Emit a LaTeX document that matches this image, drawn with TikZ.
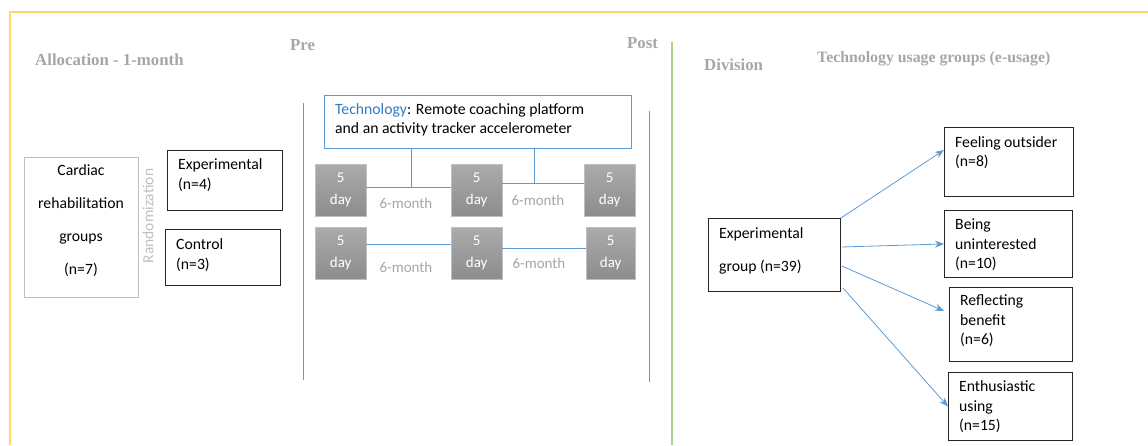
\documentclass[tikz,border=0pt]{standalone}
\usepackage{fontspec}
\setmainfont{Carlito}
\newfontfamily\headfont{Liberation Serif}
\usepackage{tikz}
\usetikzlibrary{positioning,arrows.meta,calc}
\definecolor{frameyellow}{HTML}{FFD966}
\definecolor{dividegreen}{HTML}{A9D18E}
\definecolor{lineblue}{HTML}{5B9BD5}
\definecolor{techblue}{HTML}{2E7BC4}
\definecolor{headgray}{HTML}{A6A6A6}
\definecolor{softgray}{HTML}{BFBFBF}
\tikzset{
headtext/.style={anchor=west, inner sep=0, text=headgray, font=\headfont\bfseries\fontsize{16.8}{18}\selectfont},
bodytext/.style={anchor=west, inner sep=0, align=left, font=\fontsize{15.7}{19.5}\selectfont},
grpbox/.style={draw=black!85, line width=0.9pt, anchor=north west, inner sep=0},
daybox/.style={anchor=north west, inner sep=0, minimum height=52, top color=black!33, bottom color=black!45, draw=black!25,
  text=white, align=center, font=\fontsize{15}{22}\selectfont},
gaplabel/.style={text=headgray, inner sep=0, font=\fontsize{15}{16}\selectfont},
link/.style={draw=lineblue, line width=0.8pt},
flow/.style={draw=lineblue, line width=0.8pt, -{Stealth[length=9pt,width=7pt]}},
}

\begin{document}
\begin{tikzpicture}[x=1pt, y=-1pt]
    \useasboundingbox (0,0) rectangle (1148,445);
    % frame and dividers
    \draw[frameyellow, line width=1.3pt] (10,445) -- (10,12) -- (1148,12);
    \draw[dividegreen, line width=1.2pt] (672,42) -- (672,445);
    \draw[link] (303,103) -- (303,380);
    \draw[link] (649,111) -- (649,382);

    % headings
    \node[headtext] (alloc) at (35,60) {Allocation - 1-month};
    \node[headtext] (pre) at (290,45) {Pre};
    \node[headtext] (post) at (627,43) {Post};
    \node[headtext] (divis) at (704,65) {Division};
    \node[headtext, font=\headfont\bfseries\fontsize{15.8}{18}\selectfont] (usage) at (817,59) {Technology usage groups (e-usage)};

    % allocation
    \node[draw=softgray, line width=0.9pt, anchor=north west, minimum width=114, minimum height=140] (cardiac) at (24,157) {};
    \node[inner sep=0, align=center, font=\fontsize{15.7}{33}\selectfont] (cardtext) at (81,221)
        {Cardiac\\rehabilitation\\groups\\(n=7)};
    \node[rotate=90, inner sep=0, text=softgray, font=\fontsize{15.5}{17}\selectfont] (rand) at (148,216) {Randomization};
    \node[grpbox, minimum width=115, minimum height=60] (exper) at (167,150) {};
    \node[bodytext] (expertext) at (178,175) {Experimental\\(n=4)};
    \node[grpbox, minimum width=115, minimum height=56] (contr) at (165,229) {};
    \node[bodytext] (contrtext) at (176,255) {Control\\(n=3)};

    % technology and measurement points
    \node[draw=lineblue, line width=0.9pt, anchor=north west, minimum width=307, minimum height=53] (tech) at (324,95) {};
    \node[bodytext] (techtext) at (335,120)
        {\textcolor{techblue}{Technology}: Remote coaching platform\\and an activity tracker accelerometer};
    \node[daybox, minimum width=51] (d11) at (315,164) {5\\day};
    \node[daybox, minimum width=51] (d12) at (451,164) {5\\day};
    \node[daybox, minimum width=51] (d13) at (584,164) {5\\day};
    \node[daybox, minimum width=51] (d21) at (315,227) {5\\day};
    \node[daybox, minimum width=51] (d22) at (451,227) {5\\day};
    \node[daybox, minimum width=49] (d23) at (586,227) {5\\day};
    \coordinate (t1) at (411,187);
    \coordinate (t2) at (534,183);
    \coordinate (b1) at (406,244);
    \coordinate (b2) at (540,248);
    \draw[link] (d11.east |- t1) -- (d12.west |- t1);
    \draw[link] (d12.east |- t2) -- (d13.west |- t2);
    \draw[link] (tech.south -| t1) -- (t1);
    \draw[link] (tech.south -| t2) -- (t2);
    \draw[link] (d21.east |- b1) -- (d22.west |- b1);
    \draw[link] (d22.east |- b2) -- (d23.west |- b2);
    \node[gaplabel] (m11) at (406,203) {6-month};
    \node[gaplabel] (m12) at (538,200) {6-month};
    \node[gaplabel] (m21) at (406,267) {6-month};
    \node[gaplabel] (m22) at (539,263) {6-month};

    % e-usage groups
    \node[grpbox, minimum width=132, minimum height=73] (eg) at (708,218) {};
    \node[inner sep=0, anchor=west, align=left, font=\fontsize{15.7}{33}\selectfont] (egtext) at (719,250.5)
        {Experimental\\group (n=39)};
    \node[grpbox, minimum width=129, minimum height=69] (fo) at (944,127) {};
    \node[bodytext] (fotext) at (955,152.5) {Feeling outsider\\(n=8)};
    \node[grpbox, minimum width=128, minimum height=67] (bu) at (944,210) {};
    \node[bodytext] (butext) at (955,245) {Being\\uninterested\\(n=10)};
    \node[grpbox, minimum width=123, minimum height=74] (rb) at (949,287) {};
    \node[bodytext] (rbtext) at (960,321) {Reflecting\\benefit\\(n=6)};
    \node[grpbox, minimum width=124, minimum height=68] (eu) at (948,372) {};
    \node[bodytext] (eutext) at (959,407) {Enthusiastic\\using\\(n=15)};

    \draw[flow] (eg.north east) -- ($(fo.north west)+(0,23)$);
    \draw[flow] ($(eg.north east)+(1,29)$) -- (bu.west);
    \draw[flow] ($(eg.north east)+(1,48)$) -- ($(rb.north west)+(-5,24)$);
    \draw[flow] ($(eg.south east)+(2,-4)$) -- (eu.west);
\end{tikzpicture}
\end{document}
